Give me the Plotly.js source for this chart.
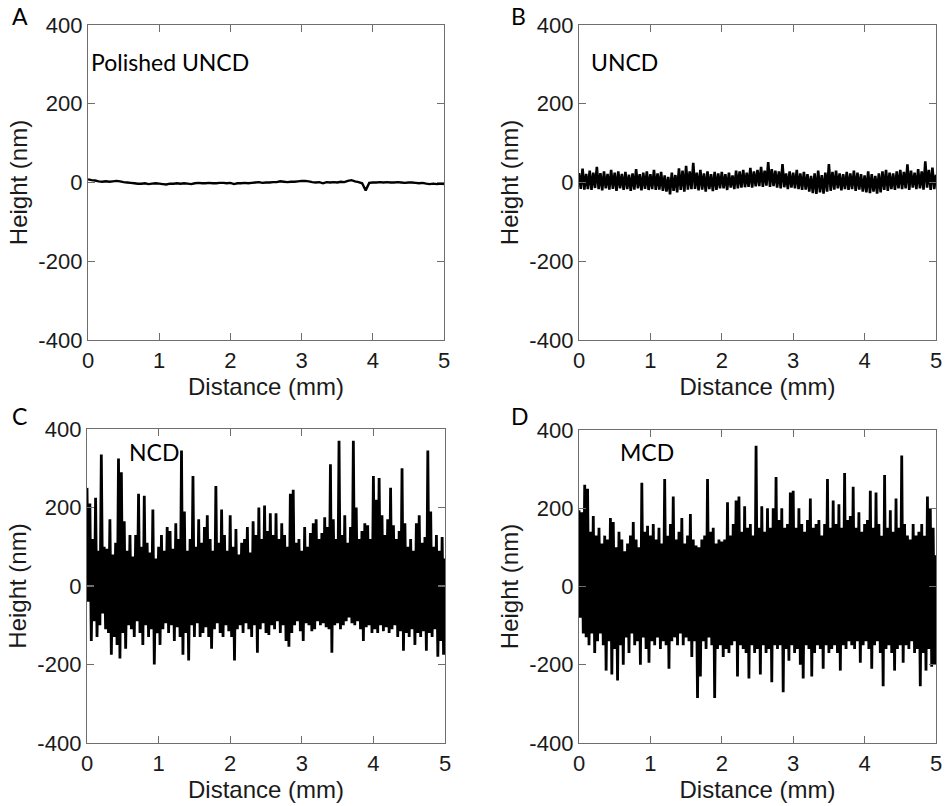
<!DOCTYPE html>
<html>
<head>
<meta charset="utf-8">
<script src="https://cdn.plot.ly/plotly-3.0.1.min.js"></script>
<style>html,body{margin:0;padding:0;background:#fff;}#chart{width:946px;height:806px;}</style>
</head>
<body>
<div id="chart"></div>
<script>
// ---- Data ----
const panelLetters = ['A', 'B', 'C', 'D'];
const panelLabels = ['Polished UNCD', 'UNCD', 'NCD', 'MCD'];
const yTickVals = [-400, -200, 0, 200, 400];
const yTickText = ['-400', '-200', '0', '200', '400'];
const xTickVals = [0, 1, 2, 3, 4, 5];
const xTickText = ['0', '1', '2', '3', '4', '5'];
const distanceMax = 5; // mm

// A: Polished UNCD, height (nm) sampled evenly over 0..5 mm
const heightA = [8,6,5,3,2,3,2,3,4,3,1,0,-1,-2,-3,-3,-2,-4,-3,-2,
  -3,-4,-5,-3,-3,-2,-3,-2,-3,-4,-2,-1,-2,-2,-1,-2,-2,-1,-1,-2,
  -1,-4,-2,-2,-1,-2,-1,0,1,-1,0,0,1,1,3,2,1,2,2,3,
  4,4,3,1,0,1,-2,1,0,1,0,2,1,4,6,3,1,-2,-20,-1,
  0,0,1,0,1,0,0,1,0,-1,0,0,-1,-2,-1,-3,-4,-3,-4,-3,-4];

// B: UNCD
const heightB = [24,-16,35,-18,22,-17,30,-19,25,-14,
  40,-17,24,-20,28,-15,22,-18,32,-16,
  25,-21,28,-15,22,-19,27,-17,20,-21,
  23,-18,34,-15,21,-20,25,-16,28,-19,
  21,-17,32,-19,23,-18,27,-21,18,-23,
  14,-30,25,-21,19,-25,36,-19,30,-23,
  42,-18,28,-17,50,-16,25,-20,32,-18,
  23,-23,28,-17,21,-22,27,-19,23,-15,
  27,-15,21,-19,25,-13,18,-17,30,-15,
  28,-13,32,-12,25,-11,37,-13,28,-10,
  32,-9,40,-11,30,-8,52,-11,34,-9,
  30,-13,28,-15,47,-12,23,-17,28,-13,
  25,-15,32,-17,23,-19,27,-18,21,-23,
  17,-27,23,-29,30,-25,19,-28,25,-23,
  47,-21,27,-18,30,-15,23,-20,21,-17,
  27,-19,23,-17,30,-21,25,-18,21,-23,
  18,-25,28,-27,21,-23,17,-28,23,-25,
  28,-19,32,-21,25,-17,23,-19,28,-15,
  32,-17,27,-15,46,-19,30,-13,25,-17,
  34,-15,28,-18,54,-13,32,-19,38,-17,
  20];

// C: NCD
const heightC = [250,-40,210,-140,120,-90,225,-130,90,-100,
  335,-70,100,-110,95,-120,170,-175,80,-130,
  110,-150,325,-185,290,-120,165,-160,90,-100,
  130,-110,75,-130,130,-90,235,-120,100,-150,
  230,-100,110,-130,85,-110,195,-200,70,-120,
  100,-150,130,-110,90,-95,150,-120,140,-100,
  95,-140,160,-105,120,-130,345,-175,190,-120,
  90,-190,120,-100,280,-130,100,-95,170,-130,
  110,-120,150,-105,180,-130,120,-160,90,-110,
  255,-95,110,-120,195,-130,130,-100,90,-115,
  180,-130,100,-190,145,-110,80,-100,110,-120,
  120,-95,150,-110,85,-130,165,-100,130,-170,
  200,-110,120,-95,205,-120,140,-125,185,-100,
  130,-110,185,-90,120,-120,160,-100,130,-140,
  100,-155,235,-120,245,-100,110,-90,120,-115,
  90,-140,150,-95,100,-100,135,-115,160,-110,
  170,-90,120,-100,135,-95,175,-105,150,-110,
  310,-170,170,-100,120,-95,370,-110,130,-100,
  180,-90,110,-80,150,-95,370,-100,200,-90,
  120,-110,140,-140,160,-105,155,-100,120,-120,
  280,-110,220,-120,275,-100,180,-115,130,-105,
  170,-120,250,-110,155,-100,120,-130,140,-115,
  300,-165,160,-120,100,-130,120,-110,90,-150,
  160,-120,180,-130,110,-115,125,-165,345,-120,
  190,-130,100,-110,130,-180,90,-140,125,-175,
  70];

// D: MCD
const heightD = [195,-80,190,-120,260,-130,250,-150,140,-120,
  180,-170,130,-140,150,-120,110,-150,130,-215,
  120,-140,175,-225,165,-160,100,-240,140,-150,
  120,-200,90,-130,110,-170,130,-120,165,-150,
  120,-140,100,-200,265,-130,140,-160,155,-195,
  130,-140,160,-150,120,-130,150,-160,110,-140,
  275,-150,130,-210,160,-140,230,-130,120,-150,
  140,-120,175,-150,110,-130,130,-140,185,-180,
  120,-140,105,-285,100,-230,120,-140,130,-160,
  275,-130,140,-150,150,-285,110,-160,120,-150,
  115,-180,120,-160,215,-170,130,-150,160,-140,
  220,-230,230,-150,140,-160,205,-170,150,-235,
  160,-150,130,-170,360,-160,150,-225,205,-150,
  140,-170,200,-160,150,-245,200,-150,280,-160,
  170,-150,200,-270,150,-160,160,-190,240,-150,
  245,-170,150,-160,200,-200,160,-235,140,-150,
  170,-160,225,-230,150,-170,160,-150,170,-160,
  130,-210,160,-150,275,-170,150,-160,220,-150,
  160,-170,210,-215,150,-150,290,-160,170,-140,
  180,-150,255,-160,150,-140,190,-195,140,-150,
  160,-140,170,-160,245,-210,150,-150,240,-140,
  160,-170,130,-255,285,-160,150,-150,195,-170,
  140,-215,225,-160,150,-150,335,-195,160,-150,
  130,-160,120,-140,160,-170,130,-160,140,-255,
  160,-170,130,-215,230,-160,200,-205,150,-200,
  80];

const series = [heightA, heightB, heightC, heightD];
const lineWidths = [2.4, 2.6, 2.8, 2.8];

// ---- Layout geometry ----
const W = 946, H = 806;
const px = (a, b) => [a / W, b / W];
const py = (top, bottom) => [1 - bottom / H, 1 - top / H];
const xDomains = [px(88, 444), px(579, 936), px(87, 445), px(579, 936)];
const yDomains = [py(25, 340), py(25, 340), py(429, 743), py(430, 743)];

const tickFont = {family: 'Liberation Sans, Arial, sans-serif', size: 22, color: '#1a1a1a'};
const titleFont = {family: 'Liberation Sans, Arial, sans-serif', size: 24, color: '#1a1a1a'};
const labelFont = {family: 'Lato, Calibri, sans-serif', size: 23, color: '#000'};
const letterFont = {family: 'Lato, Calibri, sans-serif', size: 23, color: '#000'};

const traces = [];
const layout = {
  width: W, height: H,
  margin: {l: 0, r: 0, t: 0, b: 0},
  paper_bgcolor: '#fff', plot_bgcolor: '#fff',
  showlegend: false,
  annotations: []
};

series.forEach((ys, i) => {
  const n = i + 1;
  const xs = ys.map((_, j) => j * distanceMax / (ys.length - 1));
  traces.push({
    x: xs, y: ys, type: 'scatter', mode: 'lines',
    xaxis: 'x' + (n === 1 ? '' : n), yaxis: 'y' + (n === 1 ? '' : n),
    line: {color: '#000', width: lineWidths[i], simplify: false},
    hoverinfo: 'skip'
  });
  const common = {
    showline: true, mirror: 'ticks', linecolor: '#6e6e6e', linewidth: 1.2,
    ticks: 'inside', ticklen: 7, tickwidth: 1.2, tickcolor: '#6e6e6e',
    showgrid: false, zeroline: false, automargin: false,
    tickfont: tickFont, fixedrange: true
  };
  layout['xaxis' + (n === 1 ? '' : n)] = Object.assign({}, common, {
    domain: xDomains[i], range: [0, distanceMax],
    tickmode: 'array', tickvals: xTickVals, ticktext: xTickText,
    anchor: 'y' + (n === 1 ? '' : n),
    title: {text: 'Distance (mm)', font: titleFont, standoff: 2}
  });
  layout['yaxis' + (n === 1 ? '' : n)] = Object.assign({}, common, {
    domain: yDomains[i], range: [-400, 400],
    tickmode: 'array', tickvals: yTickVals, ticktext: yTickText,
    anchor: 'x' + (n === 1 ? '' : n),
    title: {text: 'Height (nm)', font: titleFont, standoff: 4}
  });
});

// panel letters and sample labels
const letterPos = [[10, 16], [509, 16], [10, 416], [509, 416]];
const labelPos = [[89, 62], [589, 62], [127, 452], [618, 452]];
panelLetters.forEach((t, i) => {
  layout.annotations.push({
    text: t, xref: 'paper', yref: 'paper',
    x: letterPos[i][0] / W, y: 1 - letterPos[i][1] / H,
    xanchor: 'left', yanchor: 'middle', showarrow: false, font: letterFont
  });
  layout.annotations.push({
    text: panelLabels[i], xref: 'paper', yref: 'paper',
    x: labelPos[i][0] / W, y: 1 - labelPos[i][1] / H,
    xanchor: 'left', yanchor: 'middle', showarrow: false, font: labelFont
  });
});

Plotly.newPlot('chart', traces, layout, {staticPlot: true, displayModeBar: false});
</script>
</body>
</html>
